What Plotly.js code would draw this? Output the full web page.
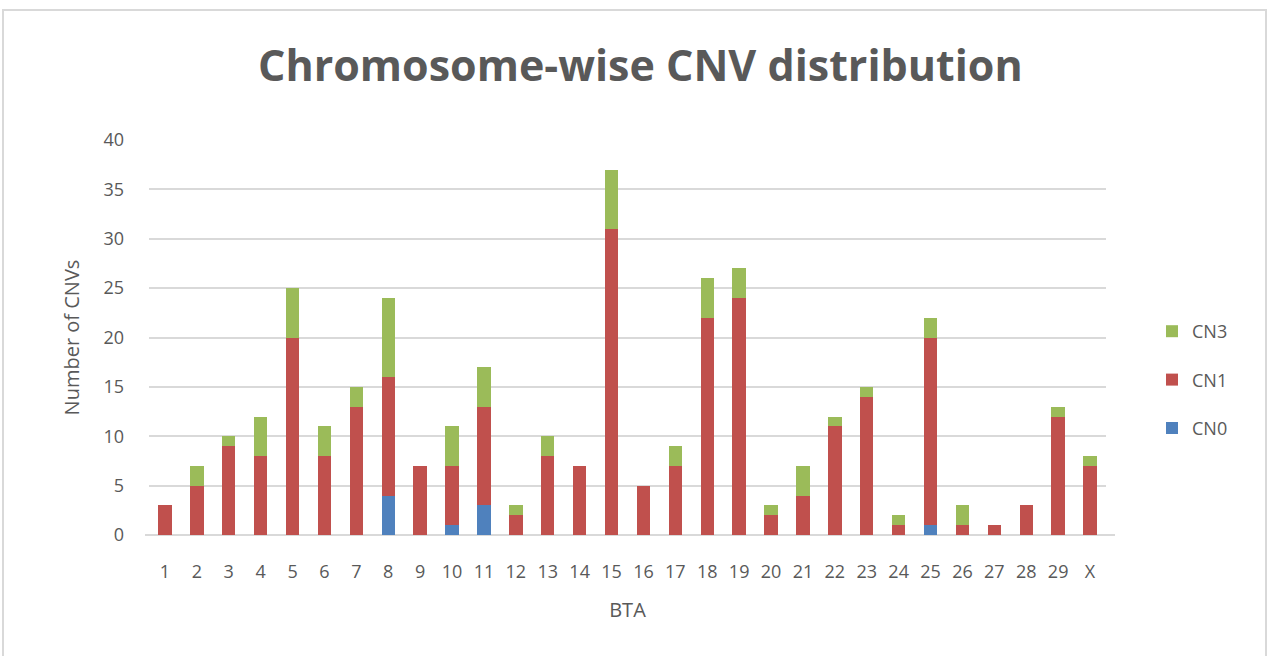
<!DOCTYPE html>
<html><head><meta charset="utf-8">
<script src="https://cdn.plot.ly/plotly-3.0.1.min.js"></script>
<style>html,body{margin:0;padding:0;background:#fff}#c{width:1268px;height:656px}</style>
</head><body><div id="c"></div>
<script>
const categories = ['1','2','3','4','5','6','7','8','9','10','11','12','13','14','15','16','17','18','19','20','21','22','23','24','25','26','27','28','29','X'];
const cn0 = [0,0,0,0,0,0,0,4,0,1,3,0,0,0,0,0,0,0,0,0,0,0,0,0,1,0,0,0,0,0];
const cn1 = [3,5,9,8,20,8,13,12,7,6,10,2,8,7,31,5,7,22,24,2,4,11,14,1,19,1,1,3,12,7];
const cn3 = [0,2,1,4,5,3,2,8,0,4,4,1,2,0,6,0,2,4,3,1,3,1,1,1,2,2,0,0,1,1];
const yTicks = [0,5,10,15,20,25,30,35,40];

const txt = '#595959';
const mk = (name, y, color, grp, rank) => ({type:'bar', name, x:categories, y, legendgroup:grp, legendrank:rank,
  marker:{color, line:{width:0}}, hoverinfo:'x+y+name'});
const data = [
  mk('CN0', cn0, '#4f81bd', 'a', 3),
  mk('CN1', cn1, '#c0504d', 'b', 2),
  mk('CN3', cn3, '#9bbb59', 'c', 1)
];
const L = 149, R = 1106;
const W = R - L;
const layout = {
  width:1268, height:656,
  margin:{l:L, r:1268-R, t:140, b:121, pad:0},
  paper_bgcolor:'#fff', plot_bgcolor:'#fff',
  barmode:'stack', bargap:0.58,
  font:{family:'Open Sans, sans-serif', color:txt, size:18},
  title:{text:'<b>Chromosome-wise CNV distribution</b>', x:0.505, xanchor:'center', y:0.9, yanchor:'middle',
    font:{family:'Open Sans, sans-serif', size:43, color:txt}},
  xaxis:{type:'category', tickfont:{size:18, color:txt}, showline:false, showgrid:false, ticks:'',
    title:{text:'BTA', font:{size:20, color:txt}, standoff:20}, ticklabelstandoff:24},
  yaxis:{range:[0,40], tickvals:yTicks, showgrid:true, gridcolor:'#d9d9d9', gridwidth:2, zeroline:true,
    zerolinecolor:'#d9d9d9', zerolinewidth:2, showline:false, ticks:'', tickfont:{size:18, color:txt},
    title:{text:'Number of CNVs', font:{size:20, color:txt}, standoff:18}, ticklabelstandoff:24},
  legend:{x:(1152-L)/W, xanchor:'left', y:(535-380)/395, yanchor:'middle', traceorder:'grouped', tracegroupgap:22,
    font:{size:18, color:txt}, bgcolor:'rgba(0,0,0,0)'},
  shapes:[
    {type:'rect', xref:'paper', yref:'paper', x0:(3-L)/W, x1:(1266-L)/W, y0:(535-660)/395, y1:(535-10)/395,
     line:{color:'#d9d9d9', width:2}, fillcolor:'rgba(0,0,0,0)', layer:'below'},
    {type:'line', xref:'paper', yref:'paper', x0:(145-L)/W, x1:(1115-L)/W, y0:0, y1:0, line:{color:'#d9d9d9', width:2}, layer:'below'}
  ]
};
Plotly.newPlot('c', data, layout, {displayModeBar:false, staticPlot:true});
</script></body></html>
